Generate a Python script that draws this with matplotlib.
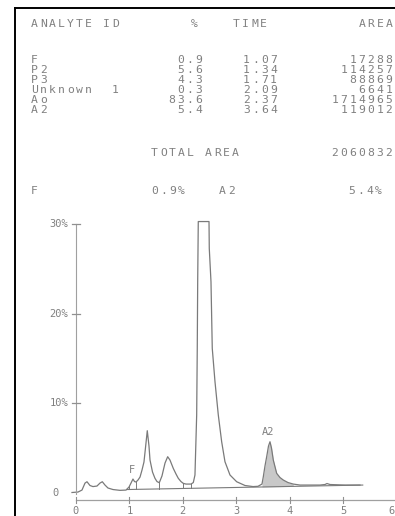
import numpy as np
import matplotlib
matplotlib.use("Agg")
import matplotlib.pyplot as plt

# report table
analytes = ["F", "P2", "P3", "Unknown  1", "Ao", "A2"]
percents = [0.9, 5.6, 4.3, 0.3, 83.6, 5.4]
times = [1.07, 1.34, 1.71, 2.09, 2.37, 3.64]
areas = [17288, 114257, 88869, 6641, 1714965, 119012]
total_area = 2060832
ratio_names = ["F", "A2"]
ratio_values = [0.9, 5.4]

# chromatogram trace (time in min, signal in %)
trace_t = [-0.075, 0.037, 0.112, 0.169, 0.206, 0.262, 0.318, 0.393, 0.449, 0.493,
           0.543, 0.599, 0.693, 0.824, 0.936, 0.993, 1.030, 1.067, 1.096, 1.124,
           1.161, 1.199, 1.236, 1.273, 1.301, 1.335, 1.367, 1.386, 1.433, 1.479,
           1.517, 1.560, 1.610, 1.667, 1.717, 1.760, 1.822, 1.873, 1.916, 1.966,
           2.009, 2.060, 2.103, 2.154, 2.197, 2.228, 2.260, 2.271, 2.279, 2.290,
           2.491, 2.496, 2.528, 2.552, 2.603, 2.665, 2.728, 2.790, 2.884, 3.009,
           3.165, 3.315, 3.408, 3.483, 3.508, 3.539, 3.571, 3.605, 3.633, 3.661,
           3.695, 3.758, 3.820, 3.882, 3.970, 4.069, 4.195, 4.569, 4.663, 4.700,
           4.757, 5.037, 5.318]
trace_y = [0.06, 0.11, 0.33, 1.11, 1.26, 0.84, 0.72, 0.78, 1.11, 1.26,
           0.89, 0.56, 0.39, 0.30, 0.33, 0.67, 1.11, 1.56, 1.28, 1.23,
           1.45, 1.78, 2.56, 3.46, 5.02, 6.95, 5.24, 3.68, 2.34, 1.64,
           1.28, 1.15, 1.90, 3.34, 4.05, 3.68, 2.75, 2.12, 1.64, 1.28,
           1.08, 1.00, 1.00, 1.00, 1.17, 2.01, 8.70, 16.13, 23.56, 30.27,
           30.27, 27.28, 23.56, 16.13, 12.41, 8.70, 5.72, 3.49, 2.01, 1.26,
           0.84, 0.72, 0.75, 1.00, 1.82, 3.01, 4.05, 5.24, 5.72, 5.02,
           3.68, 2.20, 1.73, 1.45, 1.17, 1.00, 0.89, 0.89, 0.95, 1.06,
           0.95, 0.89, 0.89]

# integration baseline end points and drop lines
base_t = [0.95, 5.37]
base_y = [0.39, 0.89]
drop_t = [1.00, 1.12, 1.56, 2.01, 2.15]
a2_range = (3.48, 4.07)

y_ticks = [10, 20, 30]
x_ticks = [0, 1, 2, 3, 4, 5, 6]

W, H = 395, 516
TXT = "#808080"
LINE = "#7a7a7a"
PITCH = 9.0
MONO = "DejaVu Sans Mono"
RIGHT = 393.5

fig = plt.figure(figsize=(W / 100, H / 100), dpi=100)
fig.patch.set_facecolor("white")


def mono(x, y, s, align="left", size=8.2):
    # fixed pitch printer text, x/y in pixels from top left
    if align == "right":
        x = x - len(s) * PITCH
    for i, ch in enumerate(s):
        if ch == " ":
            continue
        fig.text((x + (i + 0.5) * PITCH) / W, 1 - y / H, ch, ha="center", va="center",
                 family=MONO, fontsize=size, color=TXT)


# paper border
fig.add_artist(plt.Line2D([14.5 / W, 14.5 / W], [0, 1 - 8 / H], color="black", lw=1.4))
fig.add_artist(plt.Line2D([14.5 / W, 1], [1 - 8 / H, 1 - 8 / H], color="black", lw=1.4))

# header + table
mono(30, 24, "ANALYTE ID")
mono(190, 24, "%")
mono(232, 24, "TIME")
mono(RIGHT, 24, "AREA", align="right")
for i, name in enumerate(analytes):
    y = 60 + i * 10
    mono(30, y, name)
    mono(203, y, f"{percents[i]:.1f}", align="right")
    mono(242, y, f"{times[i]:.2f}")
    mono(RIGHT, y, str(areas[i]), align="right")

mono(150, 153, "TOTAL AREA")
mono(RIGHT, 153, str(total_area), align="right")
mono(30, 191, ratio_names[0])
mono(150, 191, f"{ratio_values[0]:.1f}%")
mono(218, 191, ratio_names[1])
mono(347, 191, f"{ratio_values[1]:.1f}%")

# chromatogram
ax = fig.add_axes([40 / W, 0, 355 / W, 301 / H])
ax.set_xlim(-0.674, 5.974)
ax.set_ylim(-2.56, 31.0)
ax.axis("off")

ax.plot(trace_t, trace_y, color=LINE, lw=0.9)
ax.plot(base_t, base_y, color=LINE, lw=0.8)

tt = np.array(trace_t)
yy = np.array(trace_y)
for t in drop_t:
    ax.plot([t, t], [np.interp(t, base_t, base_y), np.interp(t, tt, yy)], color=LINE, lw=0.7)

m = (tt >= a2_range[0]) & (tt <= a2_range[1])
ax.fill_between(tt[m], np.interp(tt[m], base_t, base_y), yy[m], color="#c8c8c8", lw=0)

ax.text(1.05, 2.6, "F", ha="center", va="center", family=MONO, fontsize=7.5, color=TXT)
ax.text(3.6, 6.75, "A2", ha="center", va="center", family=MONO, fontsize=7.5, color=TXT)

# y axis
ax.plot([0, 0], [-0.1, 30.0], color="#a0a0a0", lw=0.8)
for v in y_ticks:
    ax.plot([-0.08, 0.08], [v, v], color="#909090", lw=0.9)
    ax.text(-0.15, v, f"{v}%", ha="right", va="center", family=MONO, fontsize=7.5, color=TXT)
ax.text(-0.33, 0, "0", ha="right", va="center", family=MONO, fontsize=7.5, color=TXT)

# x axis
ax.plot([0, 6.3], [-0.78, -0.78], color="#a0a0a0", lw=0.9, clip_on=False)
for v in x_ticks:
    ax.plot([v, v], [-0.45, -1.1], color="#909090", lw=0.8, clip_on=False)
    last = v == x_ticks[-1]
    ax.text(v - 0.03 if last else v, -1.95, str(v), ha="right" if last else "center",
            va="center", family=MONO, fontsize=7.5, color=TXT, clip_on=False)

fig.savefig("out.png", dpi=100, facecolor="white")
